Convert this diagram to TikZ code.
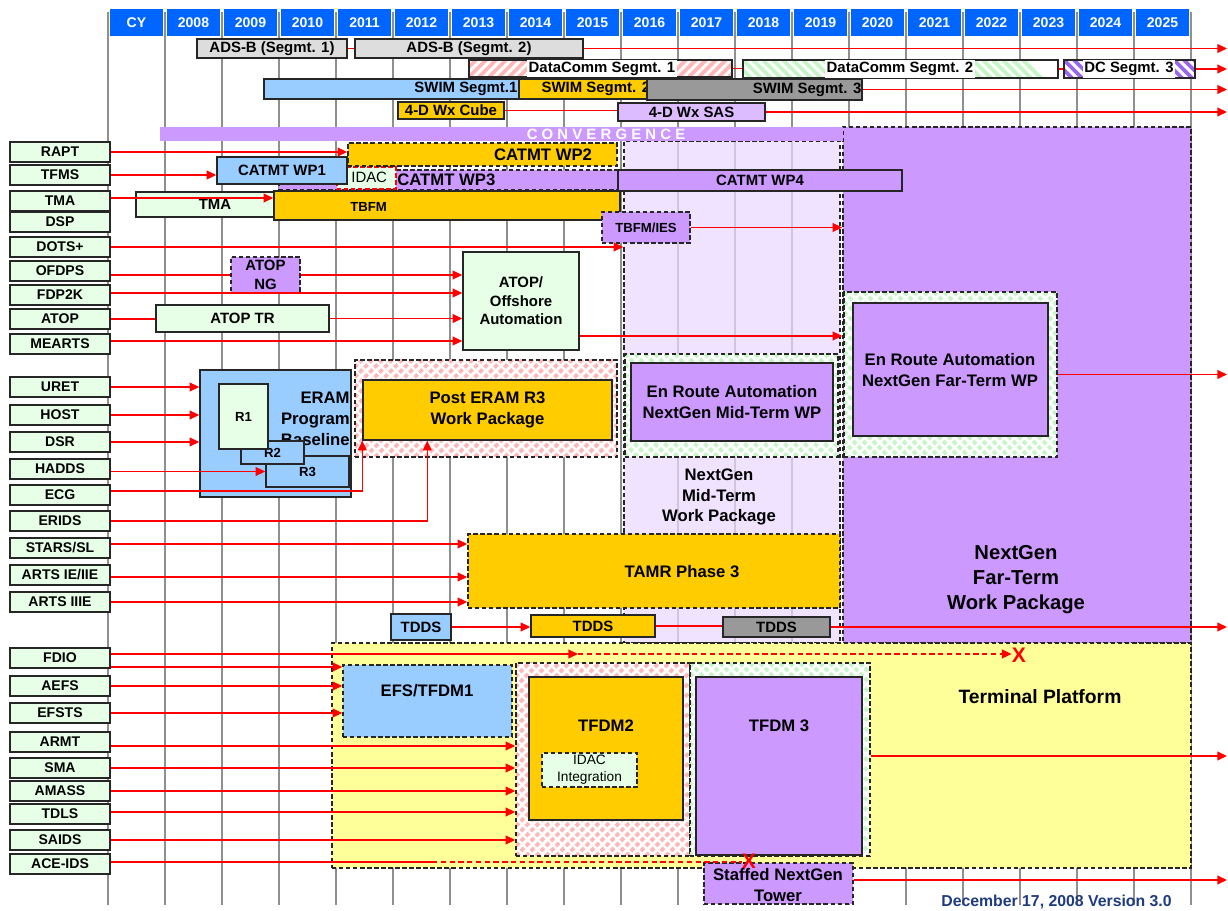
\documentclass[tikz,border=0pt]{standalone}
\usepackage{fontspec}
\setmainfont{Liberation Sans}
\usetikzlibrary{arrows.meta,fit}
\definecolor{hdrblue}{HTML}{0066FF}
\definecolor{srcgreen}{HTML}{E6FFE6}
\definecolor{wpblue}{HTML}{99CCFF}
\definecolor{wporange}{HTML}{FFCC00}
\definecolor{wppurple}{HTML}{CC99FF}
\definecolor{wplilac}{HTML}{DDBBFF}
\definecolor{midlilac}{HTML}{EBD9FF}
\definecolor{adsgray}{HTML}{DDDDDD}
\definecolor{swimgray}{HTML}{999999}
\definecolor{termyellow}{HTML}{FFFF99}
\definecolor{hatchpink}{HTML}{FFB8B8}
\definecolor{hatchgreen}{HTML}{C6F5C6}
\definecolor{hatchpurple}{HTML}{9966EE}
\definecolor{gridgray}{HTML}{8F8F8F}
\definecolor{datenavy}{HTML}{203C80}
\tikzset{
  box/.style={draw=black!85, line width=0.8pt, inner sep=0pt},
  src/.style={box, fill=srcgreen, minimum width=2cm, minimum height=0.4cm, font=\fontsize{8}{9.6}\selectfont\bfseries},
  yr/.style={fill=hdrblue, inner sep=0pt},
  yrtxt/.style={txt, text=white, font=\fontsize{8}{9.6}\selectfont\bfseries},
  dashbox/.style={dash pattern=on 2.5pt off 1.5pt},
  txt/.style={inner sep=0pt, align=center, font=\fontsize{8.5}{10}\selectfont\bfseries},
  thintxt/.style={txt, font=\fontsize{8.5}{10}\selectfont},
  smalltxt/.style={txt, font=\fontsize{7.5}{9}\selectfont\bfseries},
  bigtxt/.style={txt, font=\fontsize{9.5}{11.8}\selectfont\bfseries},
  hugetxt/.style={txt, font=\fontsize{11.5}{14.2}\selectfont\bfseries},
  pinkhatch/.style={fill=white, path picture={\foreach \k in {-4.4,-4.2,...,5.6}
    \draw[hatchpink, line width=2.2pt] ([xshift=\k cm]path picture bounding box.south west) -- ++(5cm,5cm);}},
  greenhatch/.style={fill=white, path picture={\foreach \k in {-4.4,-4.2,...,5.6}
    \draw[hatchgreen, line width=2.2pt] ([xshift=\k cm]path picture bounding box.north west) -- ++(5cm,-5cm);}},
  purplehatch/.style={fill=white, path picture={\foreach \k in {-4.4,-4.2,...,5.6}
    \draw[hatchpurple, line width=2.2pt] ([xshift=\k cm]path picture bounding box.north west) -- ++(5cm,-5cm);}},
  gridline/.style={draw=gridgray, line width=1pt},
  link/.style={draw=red, line width=0.8pt},
  flow/.style={link, -{Triangle[length=5.5pt,width=5pt]}},
  xmark/.style={inner sep=0pt, text=red, font=\fontsize{12}{12}\selectfont\bfseries}
}
\begin{document}
\begin{tikzpicture}[x=0.02cm, y=-0.02cm]
\fill[white] (0,0) rectangle (1228,911);
\useasboundingbox (0,0) rectangle (1228,911);
\foreach \i in {0,...,19} \draw[gridline] ({108+57*\i},12) -- ({108+57*\i},905);
\node[box, dashbox, fill=midlilac, fill opacity=0.72, fit={(624,141) (840,643)}] (mid) {};
\node[yr, fit={(110,9) (163,36)}] (cy) {};
\node[yrtxt] (cyt) at (cy) {CY};
\foreach \yr [evaluate=\yr as \xl using {108+57*(\yr-2007)}] in {2008,...,2025}{
  \node[yr, fit={({\xl+2},9) ({\xl+55},36)}] (y\yr) {};
  \node[yrtxt] (y\yr t) at (y\yr) {\yr};}
\node[box, dashbox, fill=wppurple, fit={(843,127) (1191,643)}] (far) {};
\node[fill=wppurple, inner sep=0pt, fit={(160,127) (843,141)}] (conv) {};
\node[txt, text=white] (convt) at (606,134) {C O N V E R G E N C E};
\node[box, dashbox, fill=termyellow, fit={(332,643) (1191,868)}] (term) {};
\node[box, fill=adsgray, fit={(197,39) (347,58)}] (adsb1) {};
\node[txt] (adsb1t) at (adsb1) {ADS-B (Segmt. 1)};
\node[box, fill=adsgray, fit={(355,39) (583,58)}] (adsb2) {};
\node[txt] (adsb2t) at (adsb2) {ADS-B (Segmt. 2)};
\node[box, pinkhatch, fit={(469,60) (732,77)}] (dc1) {};
\node[txt, fill=white, inner sep=1pt] (dc1t) at (602,68.5) {DataComm Segmt. 1};
\node[box, greenhatch, fit={(743,60) (1058,78)}] (dc2) {};
\node[txt, fill=white, inner sep=1pt] (dc2t) at (900,69) {DataComm Segmt. 2};
\node[box, purplehatch, fit={(1064,60) (1195,78)}] (dc3) {};
\node[txt, fill=white, inner sep=1pt] (dc3t) at (1129,69) {DC Segmt. 3};
\node[box, fill=wpblue, fit={(264,79) (519,99)}] (swim1) {};
\node[txt, anchor=east] (swim1t) at ([xshift=-0.04cm]swim1.east) {SWIM Segmt.1};
\node[box, fill=wporange, fit={(519,79) (647,99)}] (swim2) {};
\node[txt, anchor=west] (swim2t) at ([xshift=0.46cm]swim2.west) {SWIM Segmt. 2};
\node[box, fill=swimgray, fit={(647,79) (862,100)}] (swim3) {};
\node[txt, anchor=east] (swim3t) at ([xshift=-0.02cm]swim3.east) {SWIM Segmt. 3};
\node[box, fill=wporange, fit={(398,102) (504,119)}] (wxcube) {};
\node[txt] (wxcubet) at (wxcube) {4-D Wx Cube};
\node[box, fill=wplilac, fit={(618,103) (765,121)}] (wxsas) {};
\node[txt] (wxsast) at (wxsas) {4-D Wx SAS};
\node[box, dashbox, fill=wppurple, fit={(279,170) (618,190)}] (wp3) {};
\node[bigtxt, anchor=west] (wp3t) at (397,180) {CATMT WP3};
\node[box, dashbox, draw=red, fill=srcgreen, fit={(337,167) (396,189)}] (idac) {};
\node[thintxt, anchor=west] (idact) at (351,177) {IDAC};
\node[box, fill=wpblue, fit={(217,157) (347,184)}] (wp1) {};
\node[txt] (wp1t) at (wp1) {CATMT WP1};
\node[box, dashbox, fill=wporange, fit={(348,143) (617,166)}] (wp2) {};
\node[bigtxt] (wp2t) at (543,155) {CATMT WP2};
\node[box, fill=wppurple, fit={(618,170) (902,191)}] (wp4) {};
\node[txt] (wp4t) at (wp4) {CATMT WP4};
\node[box, fill=srcgreen, fit={(136,192) (274,217)}] (tmabar) {};
\node[txt] (tmabart) at ([xshift=0.2cm]tmabar) {TMA};
\node[box, fill=wporange, fit={(274,191) (620,220)}] (tbfm) {};
\node[smalltxt, anchor=west] (tbfmt) at (350,207) {TBFM};
\node[box, dashbox, fill=wppurple, fit={(602,212) (690,243)}] (tbfmies) {};
\node[smalltxt] (tbfmiest) at (tbfmies) {TBFM/IES};
\node[box, dashbox, fill=wppurple, fit={(231,257) (300,293)}] (atopng) {};
\node[txt, font=\fontsize{8.5}{10.5}\selectfont\bfseries] (atopngt) at (atopng) {ATOP\\NG};
\node[box, fill=srcgreen, fit={(156,305) (329,332)}] (atoptr) {};
\node[txt] (atoptrt) at (atoptr) {ATOP TR};
\node[box, fill=srcgreen, fit={(463,252) (579,350)}] (ofs) {};
\node[txt, font=\fontsize{8.5}{10.5}\selectfont\bfseries] (ofst) at (ofs) {ATOP/\\Offshore\\Automation};
\node[box, dashbox, pinkhatch, fit={(355,360) (617,457)}] (pwpreg) {};
\node[box, fill=wporange, fit={(363,380) (612,440)}] (pwp) {};
\node[txt, font=\fontsize{9.5}{12}\selectfont\bfseries] (pwpt) at (pwp) {Post ERAM R3\\Work Package};
\node[box, fill=wpblue, fit={(200,370) (351,497)}] (eram) {};
\node[bigtxt, align=right, anchor=east] (eramt) at (350,419) {ERAM\\Program\\Baseline};
\node[box, fill=wpblue, fit={(266,456) (349,487)}] (r3) {};
\node[smalltxt] (r3t) at (r3) {R3};
\node[box, fill=wpblue, fit={(241,441) (304,464)}] (r2) {};
\node[smalltxt] (r2t) at (r2) {R2};
\node[box, fill=srcgreen, fit={(219,384) (268,449)}] (r1) {};
\node[smalltxt] (r1t) at (r1) {R1};
\node[box, dashbox, greenhatch, fit={(625,354) (838,457)}] (enmreg) {};
\node[box, fill=wppurple, fit={(631,363) (833,441)}] (enm) {};
\node[bigtxt] (enmt) at (enm) {En Route Automation\\NextGen Mid-Term WP};
\node[box, dashbox, greenhatch, fit={(844,292) (1057,457)}] (enfreg) {};
\node[box, fill=wppurple, fit={(853,303) (1048,436)}] (enf) {};
\node[bigtxt] (enft) at (950,370) {En Route Automation\\NextGen Far-Term WP};
\node[bigtxt, font=\fontsize{9.5}{11.6}\selectfont\bfseries] (midt) at (719,497) {NextGen\\Mid-Term\\Work Package};
\node[hugetxt] (fart) at (1016,580) {NextGen\\Far-Term\\Work Package};
\node[box, dashbox, fill=wporange, fit={(468,534) (840,608)}] (tamr) {};
\node[bigtxt] (tamrt) at (682,572) {TAMR Phase 3};
\node[box, fill=wpblue, fit={(391,614) (451,640)}] (tdds1) {};
\node[txt] (tdds1t) at (tdds1) {TDDS};
\node[box, fill=wporange, fit={(531,615) (655,637)}] (tdds2) {};
\node[txt] (tdds2t) at (tdds2) {TDDS};
\node[box, fill=swimgray, fit={(723,617) (830,637)}] (tdds3) {};
\node[txt] (tdds3t) at (tdds3) {TDDS};
\node[box, dashbox, fill=wpblue, fit={(343,665) (512,737)}] (efs) {};
\node[bigtxt] (efst) at (427,691) {EFS/TFDM1};
\node[box, dashbox, pinkhatch, fit={(516,663) (690,856)}] (t2reg) {};
\node[box, fill=wporange, fit={(529,677) (683,820)}] (tfdm2) {};
\node[bigtxt] (tfdm2t) at (606,726) {TFDM2};
\node[box, dashbox, fill=srcgreen, fit={(542,753) (637,787)}] (idac2) {};
\node[txt, font=\fontsize{7.8}{9.6}\selectfont] (idac2t) at (idac2) {IDAC\\Integration};
\node[box, dashbox, greenhatch, fit={(690,663) (870,856)}] (t3reg) {};
\node[box, fill=wppurple, fit={(696,677) (862,855)}] (tfdm3) {};
\node[bigtxt] (tfdm3t) at (779,726) {TFDM 3};
\node[box, dashbox, fill=wppurple, fit={(704,863) (853,904)}] (staffed) {};
\node[txt, font=\fontsize{9.5}{12.3}\selectfont\bfseries] (staffedt) at (778,885) {Staffed NextGen\\Tower};
\node[txt, font=\fontsize{11}{13}\selectfont\bfseries] (termt) at (1040,697) {Terminal Platform};
\node[src] (rapt) at (60,152) {RAPT};
\node[src] (tfms) at (60,175) {TFMS};
\node[src] (tma) at (60,201) {TMA};
\node[src] (dsp) at (60,222) {DSP};
\node[src] (dots) at (60,247) {DOTS+};
\node[src] (ofdps) at (60,271) {OFDPS};
\node[src] (fdpk) at (60,295) {FDP2K};
\node[src] (atop) at (60,319) {ATOP};
\node[src] (mearts) at (60,344) {MEARTS};
\node[src] (uret) at (60,387) {URET};
\node[src] (host) at (60,415) {HOST};
\node[src] (dsr) at (60,442) {DSR};
\node[src] (hadds) at (60,469) {HADDS};
\node[src] (ecg) at (60,495) {ECG};
\node[src] (erids) at (60,521) {ERIDS};
\node[src] (stars) at (60,548) {STARS/SL};
\node[src] (artsa) at (60,575) {ARTS IE/IIE};
\node[src] (artsb) at (60,602) {ARTS IIIE};
\node[src] (fdio) at (60,658) {FDIO};
\node[src] (aefs) at (60,686) {AEFS};
\node[src] (efsts) at (60,713) {EFSTS};
\node[src] (armt) at (60,742) {ARMT};
\node[src] (sma) at (60,768) {SMA};
\node[src] (amass) at (60,791) {AMASS};
\node[src] (tdls) at (60,814) {TDLS};
\node[src] (saids) at (60,840) {SAIDS};
\node[src] (ace) at (60,864) {ACE-IDS};
\node[xmark] (x1) at (1019,655) {X};
\node[xmark] (x2) at (749,861) {X};
\coordinate (edge) at (1227,0);
\coordinate (fdmid) at (578,654);
\coordinate (acemid) at (432,862);
\draw[link] (adsb1.east) -- (adsb1.east -| adsb2.west);
\draw[flow] (adsb2.east) -- (adsb2.east -| edge);
\draw[link] (dc1.east) -- (dc1.east -| dc2.west);
\draw[link] (dc2.east) -- (dc2.east -| dc3.west);
\draw[flow] (dc3.east) -- (dc3.east -| edge);
\draw[flow] (swim3.east) -- (swim3.east -| edge);
\draw[link] (wxcube.east) -- (wxcube.east -| wxsas.west);
\draw[flow] (wxsas.east) -- (wxsas.east -| edge);
\draw[flow] (rapt.east) -- (rapt.east -| wp2.west);
\draw[flow] (tfms.east) -- (tfms.east -| wp1.west);
\draw[flow] ([yshift=0.06cm]tma.east) coordinate (t1) -- (t1 -| tbfm.west);
\draw[flow] (dots.east) -- (dots.east -| mid.west);
\draw[flow] (tbfmies.east) -- (tbfmies.east -| far.west);
\draw[link] (ofdps.east |- atopng.west) -- (atopng.west);
\draw[flow] (atopng.east) -- (atopng.east -| ofs.west);
\draw[flow] ([yshift=0.04cm]fdpk.east) coordinate (t2) -- (t2 -| ofs.west);
\draw[link] (atop.east) -- (atop.east -| atoptr.west);
\draw[flow] (atoptr.east) -- (atoptr.east -| ofs.west);
\draw[flow] ([yshift=0.06cm]mearts.east) coordinate (t3) -- (t3 -| ofs.west);
\draw[flow] ([yshift=-0.7cm]ofs.east) coordinate (o1) -- (o1 -| far.west);
\draw[flow] (uret.east) -- (uret.east -| eram.west);
\draw[flow] (host.east) -- (host.east -| eram.west);
\draw[flow] (dsr.east) -- (dsr.east -| eram.west);
\draw[flow] (hadds.east |- r3.west) -- (r3.west);
\draw[flow] ([yshift=0.08cm]ecg.east) -| (pwp.south west);
\draw[flow] (erids.east) -| ([xshift=1.3cm]pwp.south west);
\draw[flow] (enfreg.east) -- (enfreg.east -| edge);
\draw[flow] ([yshift=0.08cm]stars.east) coordinate (t4) -- (t4 -| tamr.west);
\draw[flow] ([yshift=-0.04cm]artsa.east) coordinate (t5) -- (t5 -| tamr.west);
\draw[flow] (artsb.east) -- (artsb.east -| tamr.west);
\draw[flow] (tdds1.east) -- (tdds1.east -| tdds2.west);
\draw[link] (tdds2.east) -- (tdds2.east -| tdds3.west);
\draw[flow] (tdds3.east) -- (tdds3.east -| edge);
\draw[flow] (fdio.east |- fdmid) -- (fdmid);
\draw[flow, dash pattern=on 3pt off 2pt] (fdmid) -- (fdmid -| x1.west);
\draw[flow] ([yshift=-0.18cm]fdio.east) coordinate (t6) -- (t6 -| efs.west);
\draw[flow] (aefs.east) -- (aefs.east -| efs.west);
\draw[flow] (efsts.east) -- (efsts.east -| efs.west);
\draw[flow] ([yshift=-0.08cm]armt.east) coordinate (t7) -- (t7 -| t2reg.west);
\draw[flow] (sma.east) -- (sma.east -| t2reg.west);
\draw[flow] (amass.east) -- (amass.east -| t2reg.west);
\draw[flow] ([yshift=0.04cm]tdls.east) coordinate (t8) -- (t8 -| t2reg.west);
\draw[flow] (saids.east) -- (saids.east -| t2reg.west);
\draw[link] (ace.east |- acemid) -- (acemid);
\draw[link, dash pattern=on 3pt off 2pt] (acemid) -- (acemid -| x2.west);
\draw[flow] ([yshift=0.07cm]t3reg.east) coordinate (t9) -- (t9 -| edge);
\draw[flow] ([yshift=0.07cm]staffed.east) coordinate (t10) -- (t10 -| edge);
\node[txt, font=\fontsize{9}{11}\selectfont\bfseries, text=datenavy, anchor=east] (date) at (1172,902) {December 17, 2008 Version 3.0};
\end{tikzpicture}
\end{document}
